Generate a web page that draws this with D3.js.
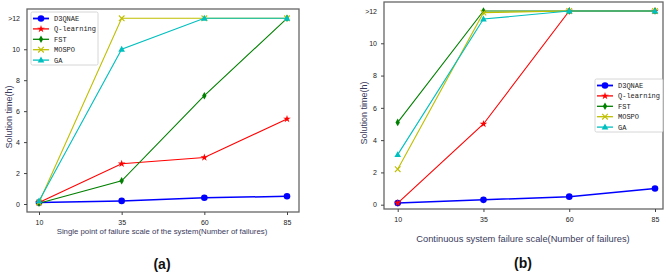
<!DOCTYPE html>
<meta charset="utf-8">
<style>
body { margin: 0; background: #fff; }
text { font-family: "Liberation Sans", Arial, sans-serif; }
.tick text { font-size: 7px; fill: #222; }
.axlab { font-size: 9px; fill: #3a3a5c; }
.leg text { font-family: "Liberation Mono", "DejaVu Sans Mono", monospace; font-size: 7px; fill: #222; }
.panel { font-size: 14px; font-weight: bold; fill: #111; }
</style>
<svg width="669" height="273"></svg>
<script src="https://d3js.org/d3.v7.min.js"></script>
<script>

// failure counts on the x axis
var scales = [10, 35, 60, 85];
var yTicks = [0, 2, 4, 6, 8, 10, 12];
var methods = ["D3QNAE", "Q-learning", "FST", "MOSPO", "GA"];

// panel (a): single point of failure
var aD3QNAE = [0.1, 0.2, 0.4, 0.5];
var aQlearn = [0.1, 2.6, 3.0, 5.5];
var aFST    = [0.05, 1.5, 7.0, 12];
var aMOSPO  = [0.1, 12, 12, 12];
var aGA     = [0.2, 10, 12, 12];

// panel (b): continuous failure
var bD3QNAE = [0.1, 0.3, 0.5, 1.0];
var bQlearn = [0.1, 5.0, 12, 12];
var bFST    = [5.1, 12, 12, 12];
var bMOSPO  = [2.2, 11.9, 12, 12];
var bGA     = [3.1, 11.5, 12, 12];

var colors = ["#0000ff", "#ff0000", "#008000", "#bfbf00", "#00bfbf"];
var shapes = ["circle", "star", "diamond", "x", "triangle"];

var svg = d3.select("svg");

function marker(g, shape, color, x, y) {
  if (shape == "circle") {
    g.append("circle").attr("cx", x).attr("cy", y).attr("r", 3.3).attr("fill", color);
  } else if (shape == "star") {
    g.append("path").attr("transform", "translate(" + x + "," + y + ")")
      .attr("d", d3.symbol(d3.symbolStar, 18)()).attr("fill", color);
  } else if (shape == "diamond") {
    g.append("path").attr("transform", "translate(" + x + "," + y + ")")
      .attr("d", "M0,-3.8L2.2,0L0,3.8L-2.2,0Z").attr("fill", color);
  } else if (shape == "x") {
    g.append("path").attr("transform", "translate(" + x + "," + y + ")")
      .attr("d", "M-2.8,-2.8L2.8,2.8M-2.8,2.8L2.8,-2.8").attr("stroke", color).attr("stroke-width", 1.1);
  } else {
    g.append("path").attr("transform", "translate(" + x + "," + y + ")")
      .attr("d", "M0,-3.5L3.3,2.4L-3.3,2.4Z").attr("fill", color);
  }
}

function drawPanel(p) {
  var g = svg.append("g");
  var x = d3.scaleLinear().domain([10, 85]).range([p.x0, p.x1]);
  var y = d3.scaleLinear().domain([0, 12]).range([p.y0, p.y1]);

  // frame
  g.append("rect").attr("x", p.fx0).attr("y", p.fy0)
    .attr("width", p.fx1 - p.fx0).attr("height", p.fy1 - p.fy0)
    .attr("fill", "none").attr("stroke", "#666").attr("stroke-width", 1.3);

  var xa = g.append("g").attr("transform", "translate(0," + p.fy1 + ")")
    .call(d3.axisBottom(x).tickValues(scales).tickSize(3).tickPadding(5));
  var ya = g.append("g").attr("transform", "translate(" + p.fx0 + ",0)")
    .call(d3.axisLeft(y).tickValues(yTicks).tickSize(3).tickPadding(4)
      .tickFormat(function(d) { return d == 12 ? ">12" : d; }));
  [xa, ya].forEach(function(a) {
    a.select(".domain").remove();
    a.selectAll(".tick line").attr("stroke", "#444");
  });
  ya.selectAll(".tick").filter(function(d) { return d == 12; }).select("line").remove();

  p.series.forEach(function(vals, k) {
    var line = d3.line().x(function(d, i) { return x(scales[i]); }).y(function(d) { return y(d); });
    g.append("path").datum(vals).attr("d", line).attr("fill", "none")
      .attr("stroke", colors[k]).attr("stroke-width", k == 0 ? 1.5 : 1.1);
    vals.forEach(function(v, i) { marker(g, shapes[k], colors[k], x(scales[i]), y(v)); });
  });

  // legend
  var lg = g.append("g").attr("class", "leg");
  lg.append("rect").attr("x", p.lx).attr("y", p.ly)
    .attr("width", p.lw).attr("height", 53).attr("rx", 1.5)
    .attr("fill", "#fff").attr("fill-opacity", 0.85).attr("stroke", "#ccc").attr("stroke-width", 0.8);
  methods.forEach(function(m, k) {
    var yy = p.ly + 6.5 + k * 10.4;
    lg.append("line").attr("x1", p.lx + 2).attr("x2", p.lx + 18).attr("y1", yy).attr("y2", yy)
      .attr("stroke", colors[k]).attr("stroke-width", k == 0 ? 1.8 : 1.3);
    marker(lg, shapes[k], colors[k], p.lx + 10, yy);
    lg.append("text").attr("x", p.lx + 23).attr("y", yy + 2.4).text(m);
  });

  g.append("text").attr("class", "axlab").attr("text-anchor", "middle")
    .attr("transform", "translate(" + p.ylx + "," + p.yly + ") rotate(-90)").text("Solution time(h)");
  g.append("text").attr("class", "axlab").attr("text-anchor", "middle")
    .attr("x", p.xlx).attr("y", p.xly).style("font-size", p.xls + "px").text(p.xlabel);
  g.append("text").attr("class", "panel").attr("text-anchor", "middle")
    .attr("x", p.xlx).attr("y", p.ply).text(p.name);
}

drawPanel({
  x0: 39, x1: 287, y0: 204, y1: 18.3,
  fx0: 27, fx1: 299, fy0: 9, fy1: 212,
  lx: 31, ly: 12, lw: 67,
  ylx: 12, yly: 117, xlx: 162, xly: 234, xls: 7.8, ply: 269,
  xlabel: "Single point of failure scale of the system(Number of failures)", name: "(a)",
  series: [aD3QNAE, aQlearn, aFST, aMOSPO, aGA]
});

drawPanel({
  x0: 397.7, x1: 655, y0: 204.7, y1: 11,
  fx0: 384, fx1: 663, fy0: 2, fy1: 209,
  lx: 595, ly: 79, lw: 68,
  ylx: 367, yly: 113, xlx: 523, xly: 242, xls: 9.3, ply: 268,
  xlabel: "Continuous system failure scale(Number of failures)", name: "(b)",
  series: [bD3QNAE, bQlearn, bFST, bMOSPO, bGA]
});

</script>
